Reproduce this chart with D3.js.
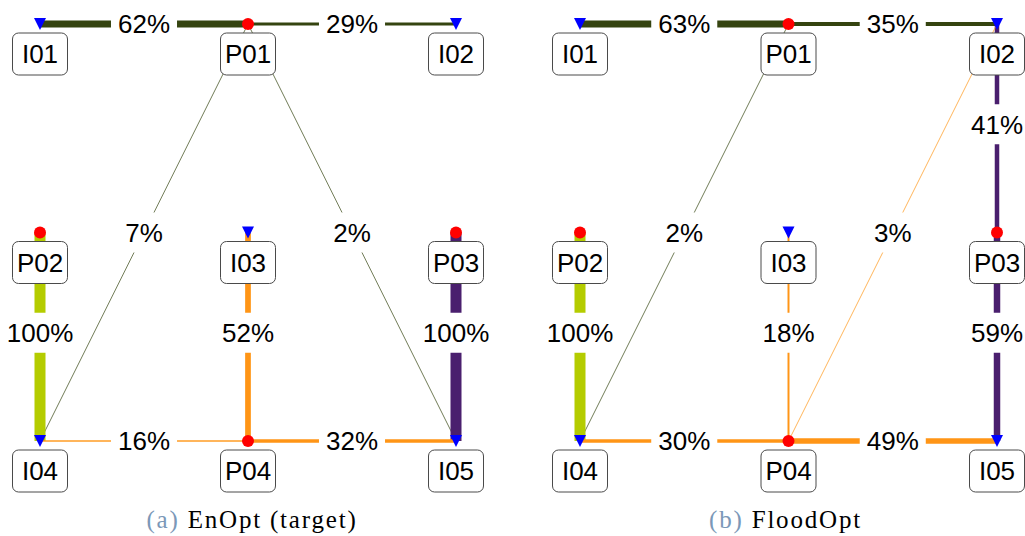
<!DOCTYPE html>
<html>

<head>
  <meta charset="utf-8">
  <title>EnOpt vs FloodOpt well allocation</title>
  <style type="text/css">
    body { margin: 0; background: #fff; }
    .nodeLabel, .edgeLabel {
      font-family: "Liberation Sans", Arial, sans-serif;
      font-size: 26px;
      fill: #000;
    }
    .caption {
      font-family: "Liberation Serif", "Times New Roman", serif;
      font-size: 25px;
      letter-spacing: 1.8px;
      fill: #000;
    }
    .caption .tag { fill: #7b98b8; }
  </style>
</head>

<body>
  <svg width="1025" height="536"></svg>
  <script src="https://d3js.org/d3.v7.min.js"></script>
  <script>
    // 1. data
    var nodeNames = ["I01", "P01", "I02", "P02", "I03", "P03", "I04", "P04", "I05"];
    var nodeCol = [0, 1, 2, 0, 1, 2, 0, 1, 2];
    var nodeRow = [0, 0, 0, 1, 1, 1, 2, 2, 2];

    var producers = ["P01", "P02", "P03", "P04"];
    var producerColors = ["#354410", "#b4cc00", "#4a1f6e", "#ff9516"];

    // (a) EnOpt (target)
    var enoptFrom = ["P01", "P01", "P01", "P01", "P02", "P04", "P03", "P04", "P04"];
    var enoptTo = ["I01", "I02", "I04", "I05", "I04", "I03", "I05", "I04", "I05"];
    var enoptPct = [62, 29, 7, 2, 100, 52, 100, 16, 32];

    // (b) FloodOpt
    var floodFrom = ["P01", "P01", "P01", "P02", "P03", "P03", "P04", "P04", "P04", "P04"];
    var floodTo = ["I01", "I02", "I04", "I04", "I02", "I05", "I03", "I04", "I05", "I02"];
    var floodPct = [63, 35, 2, 100, 41, 59, 18, 30, 49, 3];

    var captionTags = ["(a)", "(b)"];
    var captionTexts = ["EnOpt (target)", "FloodOpt"];

    // 2. scales
    var svg = d3.select("svg");
    var color = d3.scaleOrdinal().domain(producers).range(producerColors);
    var width = d3.scaleLinear().domain([0, 100]).range([0, 11]);
    var y = d3.scalePoint().domain([0, 1, 2]).range([24, 441]);

    var panels = [
      { from: enoptFrom, to: enoptTo, pct: enoptPct, x: d3.scalePoint().domain([0, 1, 2]).range([40, 456]) },
      { from: floodFrom, to: floodTo, pct: floodPct, x: d3.scalePoint().domain([0, 1, 2]).range([580, 997]) }
    ];

    var boxW = 55, boxH = 42;

    panels.forEach(function (p, pi) {
      var g = svg.append("g");
      var nodes = nodeNames.map(function (n, i) {
        return { name: n, x: p.x(nodeCol[i]), y: y(nodeRow[i]), inj: n[0] === "I" };
      });
      var byName = {};
      nodes.forEach(function (d) { byName[d.name] = d; });

      var edges = p.pct.map(function (v, i) {
        return { s: byName[p.from[i]], t: byName[p.to[i]], v: v, prod: p.from[i] };
      });

      // edges
      g.selectAll("line.edge")
        .data(edges)
        .enter()
        .append("line")
        .attr("class", "edge")
        .attr("x1", function (d) { return d.s.x; })
        .attr("y1", function (d) { return d.s.y; })
        .attr("x2", function (d) { return d.t.x; })
        .attr("y2", function (d) { return d.t.y; })
        .attr("stroke", function (d) { return color(d.prod); })
        .attr("stroke-opacity", function (d) { return width(d.v) < 1.9 ? 0.7 : 1; })
        .attr("stroke-width", function (d) { return Math.max(1, width(d.v)); });

      // edge labels (vertical ones sit a little above the midpoint)
      var lab = g.selectAll("g.elab")
        .data(edges)
        .enter()
        .append("g")
        .attr("class", "elab")
        .attr("transform", function (d) {
          var my = (d.s.y + d.t.y) / 2 - (d.s.x === d.t.x ? 4 : 0);
          return "translate(" + (d.s.x + d.t.x) / 2 + "," + my + ")";
        });
      lab.append("text")
        .attr("class", "edgeLabel")
        .attr("text-anchor", "middle")
        .attr("dy", "0.36em")
        .text(function (d) { return d.v + "%"; });
      lab.each(function () {
        var t = d3.select(this).select("text");
        var w = t.node().getComputedTextLength() + 14;
        d3.select(this).insert("rect", "text")
          .attr("x", -w / 2)
          .attr("y", -20)
          .attr("width", w)
          .attr("height", 40)
          .attr("rx", 8)
          .attr("fill", "#fff");
      });

      // markers
      g.selectAll("circle.prod")
        .data(nodes.filter(function (d) { return !d.inj; }))
        .enter()
        .append("circle")
        .attr("class", "prod")
        .attr("cx", function (d) { return d.x; })
        .attr("cy", function (d) { return d.y; })
        .attr("r", 6)
        .attr("fill", "#f00");

      g.selectAll("path.inj")
        .data(nodes.filter(function (d) { return d.inj; }))
        .enter()
        .append("path")
        .attr("class", "inj")
        .attr("d", function (d) {
          return "M" + (d.x - 6) + "," + (d.y - 6) + "L" + (d.x + 6) + "," + (d.y - 6) + "L" + d.x + "," + (d.y + 6) + "Z";
        })
        .attr("fill", "#00f");

      // node boxes
      var nb = g.selectAll("g.node")
        .data(nodes)
        .enter()
        .append("g")
        .attr("class", "node")
        .attr("transform", function (d) { return "translate(" + d.x + "," + (d.y + 9 + boxH / 2) + ")"; });
      nb.append("rect")
        .attr("x", -boxW / 2)
        .attr("y", -boxH / 2)
        .attr("width", boxW)
        .attr("height", boxH)
        .attr("rx", 6)
        .attr("fill", "#fff")
        .attr("stroke", "#4a4a4a")
        .attr("stroke-width", 1);
      nb.append("text")
        .attr("class", "nodeLabel")
        .attr("text-anchor", "middle")
        .attr("dy", "0.36em")
        .text(function (d) { return d.name; });

      // caption
      var cap = svg.append("text")
        .attr("class", "caption")
        .attr("x", p.x(1) + (pi === 0 ? 4 : -3))
        .attr("y", 528)
        .attr("text-anchor", "middle");
      cap.append("tspan").attr("class", "tag").text(captionTags[pi]);
      cap.append("tspan").text(" " + captionTexts[pi]);
    });
  </script>
</body>

</html>
